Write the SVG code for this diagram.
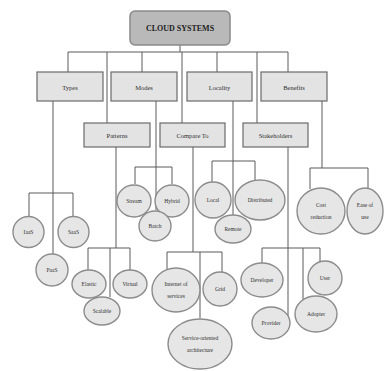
<svg xmlns="http://www.w3.org/2000/svg" width="385" height="371" viewBox="0 0 385 371">
<style>
.bg{fill:#ffffff}
.root{fill:#b9b9b9;stroke:#8a8a8a;stroke-width:1.5}
.box{fill:#e3e3e3;stroke:#6a6a6a;stroke-width:1.2}
.ell{fill:#e6e6e6;stroke:#8c8c8c;stroke-width:1.4}
.ln{stroke:#5a5a5a;stroke-width:1;fill:none}
text{font-family:"Liberation Serif","Times New Roman",serif;fill:#2e2e2e;text-anchor:middle;dominant-baseline:central}
.rt{font-size:8px;font-weight:bold;fill:#222}
.bt{font-size:6.5px}
.et{font-size:5.5px}
</style>
<rect class="bg" x="0" y="0" width="385" height="371"/>
<g id="connectors">
<path class="ln" d="M180,45V52M68,52H288M68,52V72M107,52V123M142,52V72M182,52V123M217,52V72M257,52V123M288,52V72"/>
<path class="ln" d="M53,101V254M29,193H73M29,193V217M73,193V217"/>
<path class="ln" d="M156,101V210M135,167H172M135,167V184M172,167V184"/>
<path class="ln" d="M116,147V248M88,248H130M88,248V270M130,248V270M110,248V297"/>
<path class="ln" d="M193,147V252M167,252H222M167,252V270M222,252V272M200,252V318"/>
<path class="ln" d="M233,101V215M212,161H255M212,161V182M255,161V180"/>
<path class="ln" d="M322,101V168M310,168H368M310,168V189M368,168V188"/>
<path class="ln" d="M288,147V316M262,248H320M262,248V263M320,248V262M303,248V300"/>
</g>
<g id="root"><rect class="root" x="130" y="11" width="100" height="34" rx="5"/><text class="rt" x="180" y="28">CLOUD SYSTEMS</text></g>
<g id="types"><rect class="box" x="37" y="72" width="66" height="29"/><text class="bt" x="70" y="87">Types</text></g>
<g id="modes"><rect class="box" x="111" y="72" width="66" height="29"/><text class="bt" x="144" y="87">Modes</text></g>
<g id="locality"><rect class="box" x="187" y="72" width="65" height="29"/><text class="bt" x="219.5" y="87">Locality</text></g>
<g id="benefits"><rect class="box" x="261" y="72" width="66" height="29"/><text class="bt" x="294" y="87">Benefits</text></g>
<g id="patterns"><rect class="box" x="84" y="123" width="66" height="24"/><text class="bt" x="117" y="135">Patterns</text></g>
<g id="compare"><rect class="box" x="160" y="123" width="65" height="24"/><text class="bt" x="192.5" y="135">Compare To</text></g>
<g id="stakeholders"><rect class="box" x="243" y="123" width="65" height="24"/><text class="bt" x="275.5" y="135">Stakeholders</text></g>
<g id="iaas"><ellipse class="ell" cx="28.5" cy="232" rx="15.5" ry="15.5"/><text class="et" x="28.5" y="232">IaaS</text></g>
<g id="saas"><ellipse class="ell" cx="73.5" cy="232" rx="15.5" ry="15.5"/><text class="et" x="73.5" y="232">SaaS</text></g>
<g id="paas"><ellipse class="ell" cx="52" cy="270" rx="16" ry="16"/><text class="et" x="52" y="270">PaaS</text></g>
<g id="stream"><ellipse class="ell" cx="134" cy="201" rx="17" ry="16"/><text class="et" x="134" y="201">Stream</text></g>
<g id="hybrid"><ellipse class="ell" cx="172" cy="201" rx="17" ry="16"/><text class="et" x="172" y="201">Hybrid</text></g>
<g id="batch"><ellipse class="ell" cx="155" cy="226" rx="16" ry="15"/><text class="et" x="155" y="226">Batch</text></g>
<g id="elastic"><ellipse class="ell" cx="89" cy="284" rx="17" ry="14"/><text class="et" x="89" y="284">Elastic</text></g>
<g id="virtual"><ellipse class="ell" cx="130" cy="284" rx="17" ry="14"/><text class="et" x="130" y="284">Virtual</text></g>
<g id="scalable"><ellipse class="ell" cx="102" cy="311" rx="18" ry="14"/><text class="et" x="102" y="311">Scalable</text></g>
<g id="local"><ellipse class="ell" cx="213" cy="200" rx="18" ry="18"/><text class="et" x="213" y="200">Local</text></g>
<g id="distributed"><ellipse class="ell" cx="260" cy="200" rx="25" ry="20"/><text class="et" x="260" y="200">Distributed</text></g>
<g id="remote"><ellipse class="ell" cx="233" cy="229" rx="18" ry="14"/><text class="et" x="233" y="229">Remote</text></g>
<g id="cost"><ellipse class="ell" cx="321" cy="211" rx="24" ry="23"/><text class="et" x="321" y="205">Cost</text><text class="et" x="321" y="217">reduction</text></g>
<g id="ease"><ellipse class="ell" cx="365" cy="211" rx="18" ry="23"/><text class="et" x="365" y="205">Ease of</text><text class="et" x="365" y="217">use</text></g>
<g id="ios"><ellipse class="ell" cx="176" cy="290" rx="24" ry="22"/><text class="et" x="176" y="284">Internet of</text><text class="et" x="176" y="296">services</text></g>
<g id="grid"><ellipse class="ell" cx="220" cy="289" rx="17" ry="17"/><text class="et" x="220" y="289">Grid</text></g>
<g id="soa"><ellipse class="ell" cx="200" cy="344" rx="32" ry="25"/><text class="et" x="200" y="338">Service-oriented</text><text class="et" x="200" y="350">architecture</text></g>
<g id="developer"><ellipse class="ell" cx="262" cy="280" rx="21" ry="17"/><text class="et" x="262" y="280">Developer</text></g>
<g id="user"><ellipse class="ell" cx="325" cy="278" rx="17" ry="17"/><text class="et" x="325" y="278">User</text></g>
<g id="provider"><ellipse class="ell" cx="271" cy="323" rx="19" ry="16"/><text class="et" x="271" y="323">Provider</text></g>
<g id="adopter"><ellipse class="ell" cx="316" cy="314" rx="21" ry="18"/><text class="et" x="316" y="314">Adopter</text></g>
</svg>
